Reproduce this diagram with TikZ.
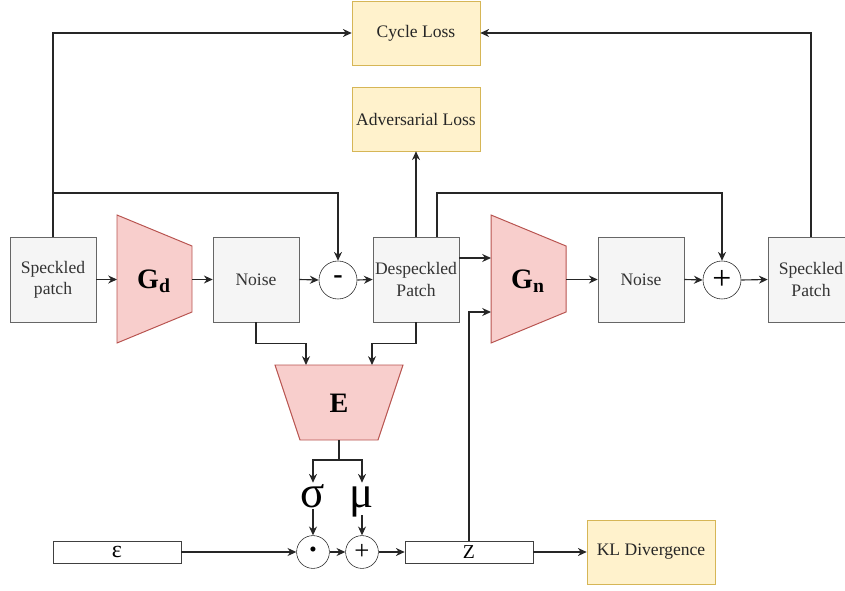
\documentclass[tikz,border=0pt]{standalone}
\usepackage{fontspec}
\setmainfont{Liberation Serif}
\usetikzlibrary{arrows.meta, positioning}
\definecolor{patchgray}{HTML}{F5F5F5}
\definecolor{patchline}{HTML}{666666}
\definecolor{patchtext}{HTML}{333333}
\definecolor{lossfill}{HTML}{FFF2CC}
\definecolor{lossline}{HTML}{D6B656}
\definecolor{netfill}{HTML}{F8CECC}
\definecolor{netline}{HTML}{B85450}
\tikzset{
  patchnode/.style={rectangle,draw=patchline,fill=patchgray,text=patchtext,minimum width=2.15cm,minimum height=2.125cm,inner sep=1pt,align=center,font=\fontsize{12.5}{15}\selectfont},
  lossnode/.style={patchnode,draw=lossline,fill=lossfill,minimum width=3.2cm,minimum height=1.6cm,text=black!85},
  vecnode/.style={rectangle,draw=black!75,fill=white,minimum width=3.2cm,minimum height=0.55cm,inner sep=0pt,font=\fontsize{14}{15}\selectfont},
  opnode/.style={circle,draw=black!85,fill=white,minimum size=0.95cm,inner sep=0pt,font=\fontsize{24}{24}\selectfont},
  smallop/.style={opnode,minimum size=0.82cm,font=\fontsize{19}{19}\selectfont},
  netshape/.style={draw=netline,fill=netfill,line width=0.7pt},
  netlabel/.style={inner sep=0pt,font=\fontsize{20}{22}\selectfont\bfseries},
  greeklabel/.style={inner sep=0pt,anchor=base,text height=0.6cm,text depth=0.05cm,font=\fontsize{32}{34}\selectfont},
  flow/.style={-{Stealth[length=2.2mm,width=2mm]},line width=0.8pt,black!85},
}

\begin{document}
\begin{tikzpicture}[x=0.025cm,y=-0.025cm]
  \useasboundingbox (0,0) rectangle (845,590);
  % losses
  \node[lossnode] (cycle) at (416,33) {Cycle Loss};
  \node[lossnode] (adv) at (416,119) {Adversarial Loss};
  \node[lossnode] (kl) at (651,552) {KL Divergence};
  % main row
  \node[patchnode] (spk) at (53,279.5) {Speckled\\patch};
  \draw[netshape] (117,215) -- (192,246) -- (192,312) -- (117,343) -- cycle;
  \node[netlabel] (gd) at (154,281) {G\textsubscript{d}};
  \node[patchnode] (noiseA) at (256,279.5) {Noise};
  \node[opnode,font=\fontsize{20}{20}\selectfont\bfseries] (minus) at (338,280) {-};
  \node[patchnode] (desp) at (416,279.5) {Despeckled\\Patch};
  \draw[netshape] (491,215) -- (566,246) -- (566,312) -- (491,343) -- cycle;
  \node[netlabel] (gn) at (528,281) {G\textsubscript{n}};
  \node[patchnode] (noiseB) at (641,279.5) {Noise};
  \node[opnode] (plus) at (722,280) {+};
  \node[patchnode] (spkB) at (811,279.5) {Speckled\\Patch};
  % encoder
  \draw[netshape] (275,365) -- (403,365) -- (378,440) -- (300,440) -- cycle;
  \node[netlabel] (enc) at (339,403) {E};
  \node[greeklabel] (sig) at (313,507) {σ};
  \node[greeklabel,text depth=0.2cm] (mu) at (362,507) {μ};
  % sampling row
  \node[vecnode,font=\fontsize{17}{17}\selectfont] (eps) at (117,552) {ε};
  \node[smallop,font=\fontsize{15}{15}\selectfont] (odot) at (313,552) {•};
  \node[smallop] (add) at (362,552) {+};
  \node[vecnode] (z) at (469,552) {Z};
  % ports of the trapezoids
  \coordinate (gdW) at (117,279.5);
  \coordinate (gdE) at (192,279.5);
  \coordinate (gnWa) at (491,258);
  \coordinate (gnWb) at (491,312);
  \coordinate (gnE) at (566,279.5);
  \coordinate (encA) at (306,365);
  \coordinate (encB) at (372,365);
  \coordinate (encS) at (339,440);
  \coordinate (tapL) at (53,193);
  \coordinate (tapR) at (437,193);
  % connectors
  \draw[flow] (spk.east) -- (gdW);
  \draw[flow] (gdE) -- (noiseA.west);
  \draw[flow] (noiseA.east) -- (minus.west);
  \draw[flow] (minus.east) -- (desp.west);
  \draw[flow] (desp.east |- gnWa) -- (gnWa);
  \draw[flow] (gnE) -- (noiseB.west);
  \draw[flow] (noiseB.east) -- (plus.west);
  \draw[flow] (plus.east) -- (spkB.west);
  \draw[flow] (spk.north) |- (cycle.west);
  \draw[flow] (tapL) -| (minus.north);
  \draw[flow] (spkB.north) |- (cycle.east);
  \draw[flow] (desp.north) -- (adv.south);
  \draw[flow] (tapR |- desp.north) -- (tapR) -| (plus.north);
  \draw[flow] (noiseA.south) -- ++(0,21) -| (encA);
  \draw[flow] (desp.south) -- ++(0,21) -| (encB);
  \draw[flow] (encS) -- ++(0,20) -| (sig.north);
  \draw[flow] (encS) -- ++(0,20) -| (mu.north);
  \draw[flow] (sig.south) -- (odot.north);
  \draw[flow] (mu.south) -- (add.north);
  \draw[flow] (eps.east) -- (odot.west);
  \draw[flow] (odot.east) -- (add.west);
  \draw[flow] (add.east) -- (z.west);
  \draw[flow] (z.east) -- (kl.west);
  \draw[flow] (z.north) |- (gnWb);
\end{tikzpicture}
\end{document}
